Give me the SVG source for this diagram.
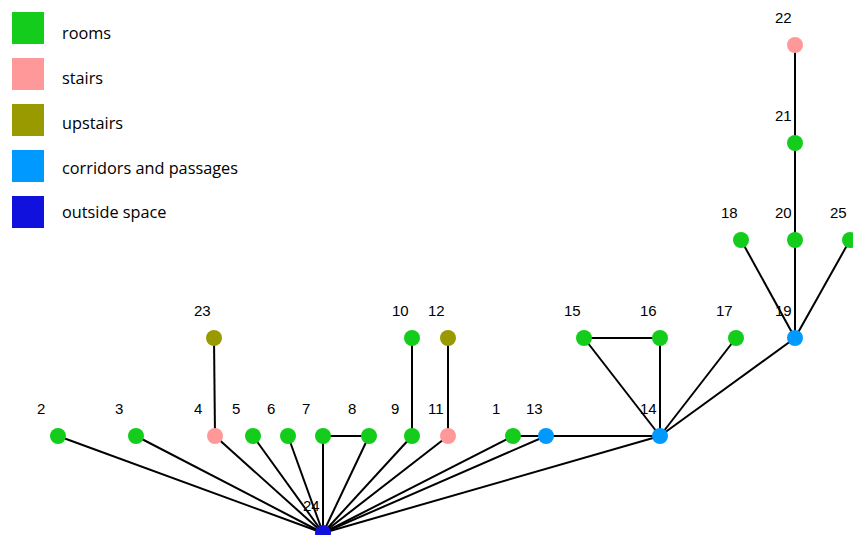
<svg xmlns="http://www.w3.org/2000/svg" width="853" height="535" viewBox="0 0 853 535">
<style>
.e{stroke:#000;stroke-width:2;fill:none}
.n circle{r:8}
.room{fill:#13CC1B}
.stair{fill:#FF9999}
.up{fill:#999900}
.corr{fill:#0099FF}
.out{fill:#1111DD}
.lb{font-family:"Liberation Sans",Arial,sans-serif;font-size:15px;fill:#000}
.lg{font-family:"Open Sans","Noto Sans",sans-serif;font-size:16.3px;fill:#000}
</style>
<rect width="853" height="535" fill="#fff"/>
<g id="legend">
<rect x="12" y="12" width="32" height="32" class="room"/><text x="62" y="39" class="lg">rooms</text>
<rect x="12" y="58" width="32" height="32" class="stair"/><text x="62" y="84" class="lg">stairs</text>
<rect x="12" y="104" width="32" height="32" class="up"/><text x="62" y="129" class="lg">upstairs</text>
<rect x="12" y="150" width="32" height="32" class="corr"/><text x="62" y="174" class="lg">corridors and passages</text>
<rect x="12" y="196" width="32" height="32" class="out"/><text x="62" y="218" class="lg">outside space</text>
</g>
<g id="connectors" class="e">
<line x1="323" y1="533" x2="58" y2="436"/>
<line x1="323" y1="533" x2="136" y2="436"/>
<line x1="323" y1="533" x2="215" y2="436"/>
<line x1="323" y1="533" x2="253" y2="436"/>
<line x1="323" y1="533" x2="288" y2="436"/>
<line x1="323" y1="533" x2="323" y2="436"/>
<line x1="323" y1="533" x2="369" y2="436"/>
<line x1="323" y1="533" x2="412" y2="436"/>
<line x1="323" y1="533" x2="448" y2="436"/>
<line x1="323" y1="533" x2="513" y2="436"/>
<line x1="323" y1="533" x2="546" y2="436"/>
<line x1="323" y1="533" x2="660" y2="436"/>
<line x1="215" y1="436" x2="214" y2="338"/>
<line x1="412" y1="436" x2="412" y2="338"/>
<line x1="448" y1="436" x2="448" y2="338"/>
<line x1="323" y1="436" x2="369" y2="436"/>
<line x1="513" y1="436" x2="546" y2="436"/>
<line x1="546" y1="436" x2="660" y2="436"/>
<line x1="660" y1="436" x2="584" y2="338"/>
<line x1="660" y1="436" x2="660" y2="338"/>
<line x1="584" y1="338" x2="660" y2="338"/>
<line x1="660" y1="436" x2="736" y2="338"/>
<line x1="660" y1="436" x2="795" y2="338"/>
<line x1="795" y1="338" x2="741" y2="240"/>
<line x1="795" y1="338" x2="795" y2="240"/>
<line x1="795" y1="338" x2="850" y2="240"/>
<line x1="795" y1="240" x2="795" y2="143"/>
<line x1="795" y1="143" x2="795" y2="45"/>
</g>
<g id="n1" class="n"><circle cx="513" cy="436" class="room"/><text x="492" y="414" class="lb">1</text></g>
<g id="n2" class="n"><circle cx="58" cy="436" class="room"/><text x="37" y="414" class="lb">2</text></g>
<g id="n3" class="n"><circle cx="136" cy="436" class="room"/><text x="115" y="414" class="lb">3</text></g>
<g id="n4" class="n"><circle cx="215" cy="436" class="stair"/><text x="194" y="414" class="lb">4</text></g>
<g id="n5" class="n"><circle cx="253" cy="436" class="room"/><text x="232" y="414" class="lb">5</text></g>
<g id="n6" class="n"><circle cx="288" cy="436" class="room"/><text x="267" y="414" class="lb">6</text></g>
<g id="n7" class="n"><circle cx="323" cy="436" class="room"/><text x="302" y="414" class="lb">7</text></g>
<g id="n8" class="n"><circle cx="369" cy="436" class="room"/><text x="348" y="414" class="lb">8</text></g>
<g id="n9" class="n"><circle cx="412" cy="436" class="room"/><text x="391" y="414" class="lb">9</text></g>
<g id="n10" class="n"><circle cx="412" cy="338" class="room"/><text x="392" y="316" class="lb">10</text></g>
<g id="n11" class="n"><circle cx="448" cy="436" class="stair"/><text x="428" y="414" class="lb">11</text></g>
<g id="n12" class="n"><circle cx="448" cy="338" class="up"/><text x="428" y="316" class="lb">12</text></g>
<g id="n13" class="n"><circle cx="546" cy="436" class="corr"/><text x="526" y="414" class="lb">13</text></g>
<g id="n14" class="n"><circle cx="660" cy="436" class="corr"/><text x="640" y="414" class="lb">14</text></g>
<g id="n15" class="n"><circle cx="584" cy="338" class="room"/><text x="564" y="316" class="lb">15</text></g>
<g id="n16" class="n"><circle cx="660" cy="338" class="room"/><text x="640" y="316" class="lb">16</text></g>
<g id="n17" class="n"><circle cx="736" cy="338" class="room"/><text x="716" y="316" class="lb">17</text></g>
<g id="n18" class="n"><circle cx="741" cy="240" class="room"/><text x="721" y="218" class="lb">18</text></g>
<g id="n19" class="n"><circle cx="795" cy="338" class="corr"/><text x="775" y="316" class="lb">19</text></g>
<g id="n20" class="n"><circle cx="795" cy="240" class="room"/><text x="775" y="218" class="lb">20</text></g>
<g id="n21" class="n"><circle cx="795" cy="143" class="room"/><text x="775" y="121" class="lb">21</text></g>
<g id="n22" class="n"><circle cx="795" cy="45" class="stair"/><text x="775" y="23" class="lb">22</text></g>
<g id="n23" class="n"><circle cx="214" cy="338" class="up"/><text x="194" y="316" class="lb">23</text></g>
<g id="n24" class="n"><circle cx="323" cy="533" class="out"/><text x="303" y="511" class="lb">24</text></g>
<g id="n25" class="n"><circle cx="850" cy="240" class="room"/><text x="830" y="218" class="lb">25</text></g>
</svg>
